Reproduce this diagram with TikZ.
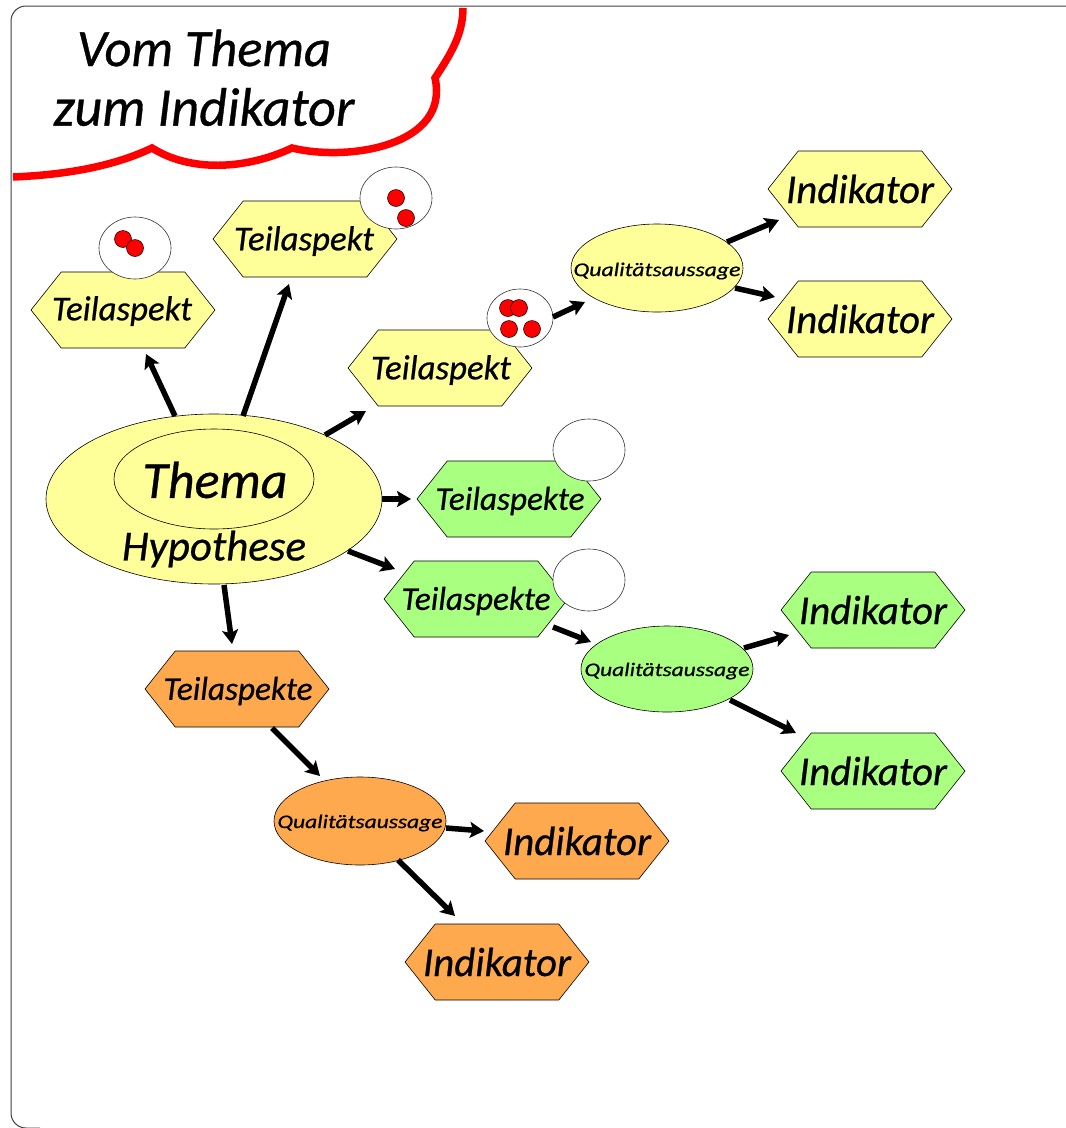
\documentclass[tikz,border=0pt]{standalone}
\usepackage{fontspec}
\usetikzlibrary{arrows.meta,shapes.geometric,shapes.symbols}
\setmainfont{Carlito}[ItalicFeatures={FakeBold=0.6}]
\definecolor{cy}{HTML}{FFFF99}
\definecolor{cg}{HTML}{A9FF7F}
\definecolor{co}{HTML}{FFA94F}
\newcommand{\fit}[2]{\resizebox{#1pt}{!}{\fontsize{30pt}{32pt}\itshape #2}}
\newcommand{\squat}[2]{\scalebox{1}[0.82]{\fit{#1}{#2}}}
\newcommand{\conn}[6]{\draw[arr] ([shift={(#2,#3)}]#1.center) -- ([shift={(#5,#6)}]#4.center);}
\tikzset{
  hexa/.style={shape=signal,signal to=east and west,signal pointer angle=103,draw=black,line width=0.6pt,
     minimum width=184pt,minimum height=76pt,inner sep=0pt,outer sep=0pt},
  ell/.style={shape=ellipse,draw=black,line width=0.6pt,inner sep=0pt,outer sep=0pt},
  bubble/.style={shape=ellipse,draw=black!80,fill=white,line width=0.6pt,inner sep=0pt,outer sep=0pt},
  dot/.style={shape=circle,draw=black,fill=red,line width=0.5pt,minimum size=17pt,inner sep=0pt,outer sep=0pt},
  arr/.style={draw=black,line width=5.5pt,-{Stealth[length=14pt,width=16pt,inset=3pt]}},
  lbl/.style={inner sep=0pt,outer sep=0pt,text=black}
}
\begin{document}
\begin{tikzpicture}[x=1pt,y=-1pt]
\useasboundingbox (0,0) rectangle (1066,1128);
\fill[white] (0,0) rectangle (1066,1128);
% frame
\coordinate (fa) at (1066,6);
\draw[black!75,line width=1pt,rounded corners=15pt] (fa) -- (11,6) -- (11,1128) -- (40,1128);
% cloud
\coordinate (c0) at (13,177);
\coordinate (c1) at (152,148);
\coordinate (c2) at (292,148);
\coordinate (c3) at (435,78);
\coordinate (c4) at (463,8);
\draw[red,line width=7.5pt,line join=miter]
  (c0) .. controls (60,175) and (110,168) .. (c1)
  .. controls (190,172) and (245,170) .. (c2)
  .. controls (350,162) and (450,145) .. (c3)
  .. controls (450,55) and (463,35) .. (c4);
\node[lbl] (tt1) at (204,48) {\fit{254}{Vom Thema}};
\node[lbl] (tt2) at (204,107) {\fit{301}{zum Indikator}};
% hexagons
\node[hexa,fill=cy] (t1) at (123,310) {};
\node[hexa,fill=cy] (t2) at (305,239) {};
\node[hexa,fill=cy] (t3) at (440,368) {};
\node[hexa,fill=cy] (i1) at (860,189) {};
\node[hexa,fill=cy] (i2) at (860,319) {};
\node[hexa,fill=cg] (g1) at (509,499) {};
\node[hexa,fill=cg] (g2) at (476,599) {};
\node[hexa,fill=cg] (i3) at (873,610) {};
\node[hexa,fill=cg] (i4) at (873,771) {};
\node[hexa,fill=co] (o1) at (237,689) {};
\node[hexa,fill=co] (i5) at (577,841) {};
\node[hexa,fill=co] (i6) at (497,962) {};
% bubbles
\node[bubble,minimum width=72pt,minimum height=62pt] (b1) at (135,248) {};
\node[bubble,minimum width=72pt,minimum height=62pt] (b2) at (396,198) {};
\node[bubble,minimum width=66pt,minimum height=58pt] (b3) at (520,318) {};
\node[bubble,minimum width=72pt,minimum height=62pt] (b4) at (589,450) {};
\node[bubble,minimum width=72pt,minimum height=62pt] (b5) at (589,580) {};
\node[dot] (d1) at (123,239) {};
\node[dot] (d2) at (135,248) {};
\node[dot] (d3) at (396,198) {};
\node[dot] (d4) at (406,218) {};
\node[dot] (d5) at (508,308) {};
\node[dot] (d6) at (519,308) {};
\node[dot] (d7) at (509,329) {};
\node[dot] (d8) at (532,329) {};
% hexagon labels
\node[lbl] (lt1) at (122,311) {\fit{140}{Teilaspekt}};
\node[lbl] (lt2) at (304,241) {\fit{140}{Teilaspekt}};
\node[lbl] (lt3) at (441,370) {\fit{140}{Teilaspekt}};
\node[lbl] (li1) at (860,189) {\fit{148}{Indikator}};
\node[lbl] (li2) at (860,319) {\fit{148}{Indikator}};
\node[lbl] (lg1) at (510,501) {\fit{149}{Teilaspekte}};
\node[lbl] (lg2) at (476,601) {\fit{149}{Teilaspekte}};
\node[lbl] (li3) at (873,610) {\fit{148}{Indikator}};
\node[lbl] (li4) at (873,771) {\fit{148}{Indikator}};
\node[lbl] (lo1) at (238,691) {\fit{149}{Teilaspekte}};
\node[lbl] (li5) at (577,841) {\fit{148}{Indikator}};
\node[lbl] (li6) at (497,962) {\fit{148}{Indikator}};
% ellipses
\node[ell,fill=cy,minimum width=336pt,minimum height=170pt] (th) at (214,499) {};
\node[ell,fill=cy,minimum width=200pt,minimum height=100pt] (thi) at (214,479) {};
\node[lbl] (lth) at (215,480) {\fit{145}{Thema}};
\node[lbl] (hy) at (214,549) {\fit{184}{Hypothese}};
\node[ell,fill=cy,minimum width=172pt,minimum height=88pt] (qy) at (657,268) {};
\node[ell,fill=cg,minimum width=172pt,minimum height=86pt] (qg) at (667,669) {};
\node[ell,fill=co,minimum width=172pt,minimum height=88pt] (qo) at (360,821) {};
\node[lbl] (lqy) at (657,271) {\squat{167}{Qualitätsaussage}};
\node[lbl] (lqg) at (667,671) {\squat{165}{Qualitätsaussage}};
\node[lbl] (lqo) at (360,823) {\squat{165}{Qualitätsaussage}};
% connectors
\conn{th}{-39}{-83}{t1}{23}{44}
\conn{th}{29}{-83}{t2}{-16}{45}
\conn{th}{111}{-64}{t3}{-74}{43}
\conn{th}{168}{0}{g1}{-98}{0}
\conn{th}{134}{52}{g2}{-81}{-30}
\conn{th}{10}{86}{o1}{-5}{-45}
\conn{b3}{33}{-1}{qy}{-72}{34}
\conn{qy}{70}{-26}{i1}{-81}{31}
\conn{qy}{78}{20}{i2}{-85}{-22}
\conn{g2}{77}{28}{qg}{-76}{-27}
\conn{qg}{77}{-21}{i3}{-84}{25}
\conn{qg}{63}{31}{i4}{-77}{-38}
\conn{o1}{35}{39}{qo}{-40}{-45}
\conn{qo}{86}{7}{i5}{-93}{-10}
\conn{qo}{38}{39}{i6}{-42}{-46}
\end{tikzpicture}
\end{document}
